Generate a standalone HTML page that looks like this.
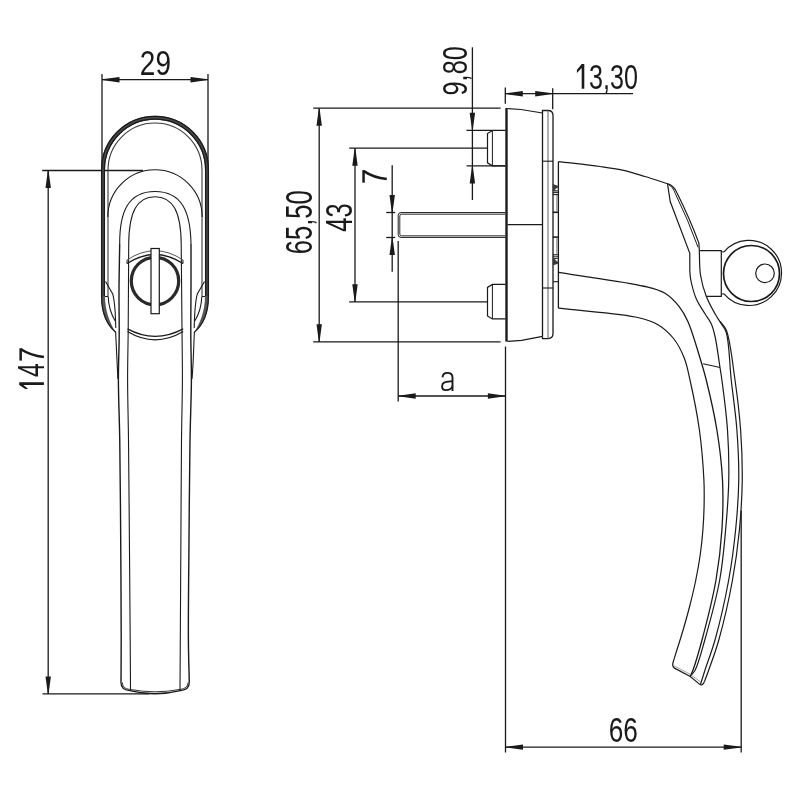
<!DOCTYPE html>
<html><head><meta charset="utf-8"><style>
html,body{margin:0;padding:0;background:#fff;width:800px;height:800px;overflow:hidden}
svg{position:absolute;left:0;top:0;will-change:transform}
text{font-family:"Liberation Sans",sans-serif;fill:#1a1a1a}
</style></head><body>
<svg width="800" height="800" viewBox="0 0 800 800" stroke-linecap="butt">
<rect width="800" height="800" fill="#fff"/>
<line x1="102" y1="74" x2="102" y2="169" stroke="#1a1a1a" stroke-width="1.3"/>
<line x1="208" y1="74" x2="208" y2="169" stroke="#1a1a1a" stroke-width="1.3"/>
<line x1="102" y1="79.7" x2="208" y2="79.7" stroke="#1a1a1a" stroke-width="1.3"/>
<path d="M102.00,79.35 L119.50,77.00 L119.50,82.40 L102.00,80.05Z" fill="#1a1a1a"/>
<path d="M208.00,80.05 L190.50,82.40 L190.50,77.00 L208.00,79.35Z" fill="#1a1a1a"/>
<line x1="42.2" y1="170.5" x2="143" y2="170.5" stroke="#1a1a1a" stroke-width="1.3"/>
<line x1="42.5" y1="693.9" x2="149" y2="693.9" stroke="#1a1a1a" stroke-width="1.3"/>
<line x1="48.2" y1="170.5" x2="48.2" y2="693.9" stroke="#1a1a1a" stroke-width="1.3"/>
<path d="M48.55,170.50 L50.90,188.00 L45.50,188.00 L47.85,170.50Z" fill="#1a1a1a"/>
<path d="M47.85,693.90 L45.50,676.40 L50.90,676.40 L48.55,693.90Z" fill="#1a1a1a"/>
<path d="M103,297 V169.8 A52,52 0 0 1 207,169.8 V297" stroke="#4a4a4a" stroke-width="4.0" fill="none" />
<path d="M101.6,297 V169.8 A53.4,53.4 0 0 1 208.4,169.8 V297" stroke="#1a1a1a" stroke-width="1.3" fill="none" />
<path d="M104.4,297 V169.8 A50.6,50.6 0 0 1 205.6,169.8 V297" stroke="#1a1a1a" stroke-width="1.3" fill="none" />
<path d="M101,296 C101,314 107,325 115.6,332.2 C110.5,324 105,312 105,296 Z" fill="#555"/>
<path d="M209,296 C209,314 203,325 194.4,332.2 C199.5,324 205,312 205,296 Z" fill="#555"/>
<path d="M101.6,296 C101.6,314 107,325 115.6,332.2" stroke="#1a1a1a" stroke-width="1.2" fill="none" />
<path d="M208.4,296 C208.4,314 203,325 194.4,332.2" stroke="#1a1a1a" stroke-width="1.2" fill="none" />
<path d="M115.6,331.5 C116.3,345 117,362 117.9,379" stroke="#1a1a1a" stroke-width="1.1" fill="none" />
<path d="M194.4,331.5 C193.7,345 193.5,362 192,379" stroke="#1a1a1a" stroke-width="1.1" fill="none" />
<path d="M108,296.5 V170 A47,47 0 0 1 202,170 V296.5" stroke="#3a3a3a" stroke-width="1.1" fill="none" />
<line x1="105" y1="296.5" x2="108" y2="296.5" stroke="#1a1a1a" stroke-width="1.0"/>
<line x1="202" y1="296.5" x2="205" y2="296.5" stroke="#1a1a1a" stroke-width="1.0"/>
<path d="M105.5,281.5 L112.6,293.7 C114.5,300 115.5,315 115.8,328" stroke="#1a1a1a" stroke-width="1.1" fill="none" />
<path d="M108.2,296.5 C108.5,306 111,314 115.2,321" stroke="#1a1a1a" stroke-width="1.1" fill="none" />
<path d="M204.5,281.5 L197.4,293.7 C195.5,300 194.5,315 194.2,328" stroke="#1a1a1a" stroke-width="1.1" fill="none" />
<path d="M201.8,296.5 C201.5,306 199,314 194.8,321" stroke="#1a1a1a" stroke-width="1.1" fill="none" />
<path d="M107.8,217 A47.2,47.2 0 0 1 202.2,217" stroke="#1a1a1a" stroke-width="1.1" fill="none" />
<path d="M119.70,244.00 C119.47,259.33 119.08,274.75 119.00,290.00 C118.92,305.08 119.30,320.00 119.20,335.00 C119.10,350.00 118.36,363.92 118.40,380.00 C118.44,398.56 119.39,417.46 119.75,440.00 C120.22,469.10 120.46,506.67 120.70,540.00 C120.94,573.33 121.20,613.65 121.20,640.00 C121.20,657.22 121.07,668.47 121.00,682.70" stroke="#1a1a1a" stroke-width="1.4" fill="none" />
<path d="M191.00,244.00 C191.00,259.33 191.03,274.75 191.00,290.00 C190.97,305.08 190.73,320.00 190.80,335.00 C190.87,350.00 191.48,363.92 191.40,380.00 C191.31,398.56 190.38,417.46 190.00,440.00 C189.52,469.10 189.27,506.67 189.00,540.00 C188.73,573.33 188.20,613.65 188.40,640.00 C188.53,657.22 189.00,668.47 189.30,682.70" stroke="#1a1a1a" stroke-width="1.4" fill="none" />
<path d="M128.70,244.00 C128.53,272.67 128.42,305.20 128.20,330.00 C128.03,348.91 127.57,362.57 127.60,380.00 C127.63,399.09 128.23,417.46 128.50,440.00 C128.85,469.10 129.12,506.67 129.40,540.00 C129.68,573.33 130.01,612.47 130.20,640.00 C130.34,659.37 130.40,673.00 130.50,689.50" stroke="#1a1a1a" stroke-width="1.1" fill="none" />
<path d="M181.20,244.00 C181.47,272.67 181.79,305.20 182.00,330.00 C182.16,348.91 182.46,362.57 182.40,380.00 C182.33,399.09 181.74,417.46 181.50,440.00 C181.19,469.10 181.10,506.67 180.90,540.00 C180.70,573.33 180.47,612.23 180.30,640.00 C180.18,659.83 180.10,674.00 180.00,691.00" stroke="#1a1a1a" stroke-width="1.1" fill="none" />
<path d="M119.7,244 C119.5,212 128,191.5 155,191.5 C182,191.5 190.5,212 191,244" stroke="#1a1a1a" stroke-width="1.1" fill="none" />
<path d="M128.7,244 C129,212 137,196.7 155,196.7 C173,196.7 181,212 181.2,244" stroke="#1a1a1a" stroke-width="1.1" fill="none" />
<path d="M121,682.5 C121,687.5 124,690 129.7,690.6 Q155,696.9 180.3,690.6 C186,690 189.3,687.5 189.3,682.5" stroke="#1a1a1a" stroke-width="1.3" fill="none" />
<path d="M122.4,682.5 C122.4,686.5 125,688.8 129.7,689.4 Q155,694.2 180.3,689.4 C185,688.8 188,686.5 188,682.5" stroke="#1a1a1a" stroke-width="0.9" fill="none" />
<circle cx="155" cy="281" r="23.7" stroke="#2a2a2a" stroke-width="3.2" fill="none"/>
<path d="M127,260 Q155,241.4 183,260" stroke="#555" stroke-width="1.0" fill="none" />
<path d="M127,263.5 Q155,245.5 183,263.5" stroke="#1a1a1a" stroke-width="1.3" fill="none" />
<line x1="127" y1="260" x2="127" y2="263.5" stroke="#1a1a1a" stroke-width="1.0"/>
<line x1="183" y1="260" x2="183" y2="263.5" stroke="#1a1a1a" stroke-width="1.0"/>
<path d="M127.5,328.9 Q155,343.9 183.2,328.9" stroke="#1a1a1a" stroke-width="1.2" fill="none" />
<path d="M127.5,331.6 Q155,348.2 183.2,331.6" stroke="#1a1a1a" stroke-width="1.2" fill="none" />
<rect x="151" y="248.5" width="8.3" height="65.2" fill="#fff" stroke="#1a1a1a" stroke-width="1.2"/>
<line x1="313.2" y1="108.2" x2="500.6" y2="108.2" stroke="#1a1a1a" stroke-width="1.3"/>
<line x1="313.2" y1="341.8" x2="500.6" y2="341.8" stroke="#1a1a1a" stroke-width="1.3"/>
<line x1="319.2" y1="108.2" x2="319.2" y2="341.8" stroke="#1a1a1a" stroke-width="1.3"/>
<path d="M319.55,108.20 L321.90,125.70 L316.50,125.70 L318.85,108.20Z" fill="#1a1a1a"/>
<path d="M318.85,341.80 L316.50,324.30 L321.90,324.30 L319.55,341.80Z" fill="#1a1a1a"/>
<line x1="349.2" y1="148.2" x2="487.5" y2="148.2" stroke="#1a1a1a" stroke-width="1.3"/>
<line x1="349.2" y1="301.8" x2="487.3" y2="301.8" stroke="#1a1a1a" stroke-width="1.3"/>
<line x1="355" y1="148.2" x2="355" y2="301.8" stroke="#1a1a1a" stroke-width="1.3"/>
<path d="M355.35,148.20 L357.70,165.70 L352.30,165.70 L354.65,148.20Z" fill="#1a1a1a"/>
<path d="M354.65,301.80 L352.30,284.30 L357.70,284.30 L355.35,301.80Z" fill="#1a1a1a"/>
<line x1="392.2" y1="165.2" x2="392.2" y2="271.7" stroke="#1a1a1a" stroke-width="1.3"/>
<line x1="386.2" y1="212.5" x2="395.2" y2="212.5" stroke="#1a1a1a" stroke-width="1.3"/>
<line x1="386.2" y1="237.5" x2="395.2" y2="237.5" stroke="#1a1a1a" stroke-width="1.3"/>
<path d="M391.85,212.50 L389.50,195.00 L394.90,195.00 L392.55,212.50Z" fill="#1a1a1a"/>
<path d="M392.55,237.50 L394.90,255.00 L389.50,255.00 L391.85,237.50Z" fill="#1a1a1a"/>
<line x1="472.4" y1="47.3" x2="472.4" y2="200" stroke="#1a1a1a" stroke-width="1.3"/>
<line x1="466.5" y1="130.3" x2="505.5" y2="130.3" stroke="#1a1a1a" stroke-width="1.3"/>
<line x1="466.6" y1="165.9" x2="505.5" y2="165.9" stroke="#1a1a1a" stroke-width="1.3"/>
<path d="M472.05,130.30 L469.70,112.80 L475.10,112.80 L472.75,130.30Z" fill="#1a1a1a"/>
<path d="M472.75,165.90 L475.10,183.40 L469.70,183.40 L472.05,165.90Z" fill="#1a1a1a"/>
<line x1="505.3" y1="87.5" x2="505.3" y2="103.7" stroke="#1a1a1a" stroke-width="1.3"/>
<line x1="552.7" y1="88.2" x2="552.7" y2="109.3" stroke="#1a1a1a" stroke-width="1.3"/>
<line x1="505.3" y1="93.7" x2="633" y2="93.7" stroke="#1a1a1a" stroke-width="1.3"/>
<path d="M505.30,93.35 L522.80,91.00 L522.80,96.40 L505.30,94.05Z" fill="#1a1a1a"/>
<path d="M552.70,94.05 L535.20,96.40 L535.20,91.00 L552.70,93.35Z" fill="#1a1a1a"/>
<line x1="398.2" y1="241" x2="398.2" y2="401.5" stroke="#1a1a1a" stroke-width="1.3"/>
<line x1="398.2" y1="396" x2="505.4" y2="396" stroke="#1a1a1a" stroke-width="1.3"/>
<path d="M398.20,395.65 L415.70,393.30 L415.70,398.70 L398.20,396.35Z" fill="#1a1a1a"/>
<path d="M505.40,396.35 L487.90,398.70 L487.90,393.30 L505.40,395.65Z" fill="#1a1a1a"/>
<line x1="505.5" y1="346.5" x2="505.5" y2="752.5" stroke="#1a1a1a" stroke-width="1.3"/>
<line x1="741.2" y1="510.6" x2="741.2" y2="752.4" stroke="#1a1a1a" stroke-width="1.3"/>
<line x1="505.5" y1="747.1" x2="741.2" y2="747.1" stroke="#1a1a1a" stroke-width="1.3"/>
<path d="M505.50,746.75 L523.00,744.40 L523.00,749.80 L505.50,747.45Z" fill="#1a1a1a"/>
<path d="M741.20,747.45 L723.70,749.80 L723.70,744.40 L741.20,746.75Z" fill="#1a1a1a"/>
<path d="M505.5,130.5 H492.4 L487.5,133.5 V162.8 L492.4,165.8 H505.5" stroke="#1a1a1a" stroke-width="1.2" fill="none" />
<line x1="492.4" y1="130.5" x2="492.4" y2="165.8" stroke="#1a1a1a" stroke-width="1.0"/>
<path d="M505.5,284.4 H492.4 L487.5,287.4 V315.9 L492.4,318.9 H505.5" stroke="#1a1a1a" stroke-width="1.2" fill="none" />
<line x1="492.4" y1="284.4" x2="492.4" y2="318.9" stroke="#1a1a1a" stroke-width="1.0"/>
<path d="M505.5,212.6 H401 Q398.2,212.6 398.2,215.4 V234.6 Q398.2,237.4 401,237.4 H505.5" stroke="#1a1a1a" stroke-width="1.0" fill="none" />
<path d="M505.5,214.2 H401.5 Q399.8,214.2 399.8,216 V234 Q399.8,235.8 401.5,235.8 H505.5" stroke="#1a1a1a" stroke-width="0.9" fill="none" />
<line x1="507.5" y1="224.7" x2="542.7" y2="224.7" stroke="#1a1a1a" stroke-width="1.2"/>
<line x1="506.5" y1="108" x2="506.5" y2="341.6" stroke="#1a1a1a" stroke-width="2.4"/>
<path d="M507.5,108.5 L521,109.5 L542.5,113" stroke="#1a1a1a" stroke-width="1.2" fill="none" />
<path d="M507.5,341.4 L521.6,340.3 L542.5,336.4" stroke="#1a1a1a" stroke-width="1.2" fill="none" />
<path d="M542.5,336.4 V338.6 H548 Q553,338.6 553,333.6 V115.5 Q553,110.5 548,110.5 H542.5 V113" stroke="#1a1a1a" stroke-width="1.3" fill="none" />
<line x1="542.5" y1="113" x2="542.5" y2="336.4" stroke="#1a1a1a" stroke-width="1.3"/>
<line x1="548" y1="110.5" x2="548" y2="338.6" stroke="#606060" stroke-width="1.0"/>
<line x1="542.5" y1="161.2" x2="553" y2="161.2" stroke="#1a1a1a" stroke-width="1.1"/>
<line x1="542.5" y1="288" x2="553" y2="288" stroke="#1a1a1a" stroke-width="1.1"/>
<line x1="558.4" y1="161.6" x2="558.4" y2="308.2" stroke="#1a1a1a" stroke-width="1.3"/>
<path d="M552.8,184.00 L558.4,186.00 V191.50 H552.8 Z" fill="#3a3a3a"/>
<path d="M554.6,189.80 L557.6,187.60 V190.60 Z" fill="#fff"/>
<line x1="552.8" y1="192.6" x2="558.4" y2="192.6" stroke="#1a1a1a" stroke-width="1.0"/>
<line x1="552.8" y1="194.6" x2="558.4" y2="194.6" stroke="#1a1a1a" stroke-width="1.1"/>
<line x1="552.8" y1="212.3" x2="558.4" y2="212.3" stroke="#1a1a1a" stroke-width="1.6"/>
<line x1="556.9" y1="194.6" x2="556.9" y2="212.3" stroke="#666" stroke-width="0.9"/>
<path d="M552.8,265.40 L558.4,263.40 V257.90 H552.8 Z" fill="#3a3a3a"/>
<path d="M554.6,259.60 L557.6,261.80 V258.80 Z" fill="#fff"/>
<line x1="552.8" y1="256.79999999999995" x2="558.4" y2="256.79999999999995" stroke="#1a1a1a" stroke-width="1.0"/>
<line x1="552.8" y1="254.79999999999998" x2="558.4" y2="254.79999999999998" stroke="#1a1a1a" stroke-width="1.1"/>
<line x1="552.8" y1="237.09999999999997" x2="558.4" y2="237.09999999999997" stroke="#1a1a1a" stroke-width="1.6"/>
<line x1="556.9" y1="254.79999999999998" x2="556.9" y2="237.09999999999997" stroke="#666" stroke-width="0.9"/>
<line x1="553" y1="281.7" x2="558.4" y2="281.7" stroke="#1a1a1a" stroke-width="1.1"/>
<path d="M558.40,161.60 C572.27,163.23 588.26,164.84 600.00,166.50 C608.66,167.72 615.05,168.55 622.50,170.20 C630.05,171.87 637.52,174.26 645.00,176.50 C652.52,178.76 660.00,181.30 667.50,183.70" stroke="#1a1a1a" stroke-width="1.2" fill="none" />
<path d="M667.5,183.7 C671.5,184.8 674.5,187.5 676.8,192.5 Q690,219 698.9,243.1 L699.3,250.6" stroke="#1a1a1a" stroke-width="1.2" fill="none" />
<path d="M668.5,184.6 C671.8,186.3 673.5,189 675.2,193.3 Q688.3,220 698.1,247.4" stroke="#1a1a1a" stroke-width="1.0" fill="none" />
<path d="M667.5,183.7 L670.2,201.5 L689.8,253.4 L689.8,271" stroke="#1a1a1a" stroke-width="1.2" fill="none" />
<path d="M689.80,271.00 C690.13,274.00 690.10,276.49 690.80,280.00 C691.83,285.15 693.78,292.99 696.25,298.75 C698.58,304.18 702.30,309.27 705.00,313.75 C707.23,317.44 709.60,320.11 711.25,323.75 C712.98,327.58 713.82,331.10 715.00,336.25 C716.84,344.27 718.74,359.43 720.00,367.50 C720.80,372.60 721.17,374.43 721.90,380.00 C723.36,391.10 726.36,413.31 727.50,430.00 C728.64,446.64 729.07,463.34 728.75,480.00 C728.43,496.67 727.11,513.35 725.60,530.00 C724.09,546.69 722.86,562.68 719.70,580.00 C716.20,599.20 709.48,623.50 704.80,640.00 C701.46,651.78 698.46,663.99 695.20,670.00 C693.58,672.98 691.93,674.00 690.30,676.00" stroke="#1a1a1a" stroke-width="1.2" fill="none" />
<path d="M699.30,250.60 C699.70,258.73 699.27,267.21 700.50,275.00 C701.67,282.39 703.73,289.63 706.25,296.25 C708.63,302.49 712.21,308.78 715.00,313.75 C717.16,317.61 719.31,320.51 721.25,323.75 C723.04,326.75 724.87,328.21 726.25,332.50 C729.26,341.83 729.50,363.97 731.25,380.00 C733.05,396.46 735.65,413.31 736.90,430.00 C738.15,446.64 738.97,463.34 738.75,480.00 C738.53,496.67 737.27,513.36 735.60,530.00 C733.92,546.70 731.87,562.65 728.70,580.00 C725.20,599.16 719.62,623.52 715.00,640.00 C711.69,651.81 707.64,661.79 705.00,670.00 C703.17,675.69 702.00,679.67 700.50,684.50" stroke="#1a1a1a" stroke-width="1.2" fill="none" />
<path d="M720.00,321.25 C722.08,324.17 724.40,325.58 726.25,330.00 C730.27,339.59 732.61,363.30 735.00,380.00 C737.38,396.63 739.39,413.31 740.60,430.00 C741.80,446.64 742.45,463.34 742.25,480.00 C742.05,496.67 741.02,513.37 739.40,530.00 C737.77,546.70 735.67,562.65 732.50,580.00 C729.00,599.16 723.43,623.53 718.80,640.00 C715.48,651.81 711.44,662.37 708.75,670.00 C707.08,674.75 705.92,677.67 704.50,681.50" stroke="#1a1a1a" stroke-width="1.2" fill="none" />
<path d="M558.40,272.40 C586.93,277.02 625.22,281.63 644.00,286.25 C653.49,288.58 659.03,289.69 665.00,293.25 C670.56,296.57 675.15,301.58 679.00,306.40 C682.65,310.96 684.91,315.01 687.75,321.25 C692.01,330.60 696.69,347.28 700.00,358.00 C702.54,366.24 704.05,371.14 706.25,380.00 C709.54,393.25 714.19,413.27 716.90,430.00 C719.59,446.60 721.67,463.31 722.50,480.00 C723.33,496.64 722.98,513.36 721.90,530.00 C720.82,546.70 719.04,562.66 716.00,580.00 C712.64,599.18 706.40,623.49 702.00,640.00 C698.86,651.77 695.29,663.86 693.00,670.00 C691.95,672.81 691.20,674.00 690.30,676.00" stroke="#1a1a1a" stroke-width="1.3" fill="none" />
<path d="M558.40,308.20 C585.18,311.38 621.30,313.60 638.75,317.75 C647.53,319.84 652.20,321.29 658.00,324.75 C663.88,328.26 669.40,333.28 673.75,338.75 C678.19,344.33 681.55,351.19 684.25,358.00 C687.00,364.93 688.01,371.14 690.00,380.00 C692.97,393.25 697.08,413.28 699.40,430.00 C701.70,446.61 703.22,466.18 703.90,480.00 C704.38,489.75 704.27,496.67 704.10,505.00 C703.93,513.34 703.55,521.68 702.90,530.00 C702.25,538.34 701.38,546.69 700.20,555.00 C699.02,563.35 697.49,571.69 695.80,580.00 C694.10,588.36 692.11,596.69 690.00,605.00 C687.88,613.36 685.40,622.15 683.10,630.00 C681.03,637.06 678.75,644.02 676.90,650.00 C675.39,654.86 674.17,658.80 672.80,663.20" stroke="#1a1a1a" stroke-width="1.2" fill="none" />
<path d="M672.8,663.2 Q672.3,667 674.4,668.1 L690.3,676.5 L700,684.6 Q702.5,686 704.5,681.5" stroke="#1a1a1a" stroke-width="1.2" fill="none" />
<path d="M674,665.8 L690.3,674.3 L701,682.3" stroke="#777" stroke-width="0.7" fill="none" />
<line x1="703.1" y1="363.75" x2="720" y2="367.5" stroke="#1a1a1a" stroke-width="1.1"/>
<path d="M699.3,250.6 H721.3 V296.3 H706.25" stroke="#1a1a1a" stroke-width="1.2" fill="none" />
<path d="M724,251.9 A32.6,32.6 0 1 1 724,293.9" stroke="#1a1a1a" stroke-width="1.2" fill="none"/>
<line x1="721.3" y1="251.9" x2="724" y2="251.9" stroke="#1a1a1a" stroke-width="1.0"/>
<line x1="721.3" y1="293.9" x2="724" y2="293.9" stroke="#1a1a1a" stroke-width="1.0"/>
<circle cx="751.5" cy="273.5" r="28" stroke="#1a1a1a" stroke-width="1.7" fill="none"/>
<circle cx="765" cy="273.3" r="9.3" stroke="#1a1a1a" stroke-width="1.2" fill="none"/>
<path d="M20.65,360.60 L20.65,348.20" stroke="#1a1a1a" stroke-width="2.5" fill="none"/>
<path d="M20.90,349.20 Q30.42,355.40 43.90,357.00" stroke="#1a1a1a" stroke-width="2.5" fill="none"/>
<path d="M19.20,384.90 L19.20,382.30 L43.90,382.30 L43.90,384.90 L23.40,384.90 L28.20,389.10 L25.20,389.10Z" fill="#1a1a1a"/>
<path d="M363.55,182.70 L363.55,170.10" stroke="#1a1a1a" stroke-width="2.5" fill="none"/>
<path d="M363.80,171.10 Q373.32,177.50 386.80,179.10" stroke="#1a1a1a" stroke-width="2.5" fill="none"/>
<path d="M581.70,63.90 L584.30,63.90 L584.30,88.80 L581.70,88.80 L581.70,68.10 L576.90,72.90 L576.90,69.90Z" fill="#1a1a1a"/>
<path d="M442.5,377.4 C442.8,373.8 444.8,372.9 447.3,372.9 C450.6,372.9 452.5,374.3 452.5,377.4 V390.9" stroke="#1a1a1a" stroke-width="1.9" fill="none" />
<path d="M452.5,381.2 C449,381.6 445.8,381.8 444,382.6 C442.4,383.4 442.1,384.9 442.1,386.5 C442.1,388.9 443.6,390.1 445.9,390.1 C448.9,390.1 451.5,388.4 452.5,386.4" stroke="#1a1a1a" stroke-width="1.9" fill="none" />
<text transform="translate(139.85,74.65) scale(0.7944,1)" font-size="35.21">29</text>
<text transform="translate(44.26,376.90) rotate(-90) scale(0.6883,1)" font-size="36.18">4</text>
<text transform="translate(311.74,254.28) rotate(-90) scale(0.7045,1)" font-size="36.34">65,50</text>
<text transform="translate(351.64,231.76) rotate(-90) scale(0.7025,1)" font-size="36.27">43</text>
<text transform="translate(467.34,95.47) rotate(-90) scale(0.7078,1)" font-size="35.77">9,80</text>
<text transform="translate(589.09,88.65) scale(0.7138,1)" font-size="35.21">3,30</text>
<text transform="translate(608.69,741.89) scale(0.7302,1)" font-size="35.92">66</text>
</svg>
</body></html>
